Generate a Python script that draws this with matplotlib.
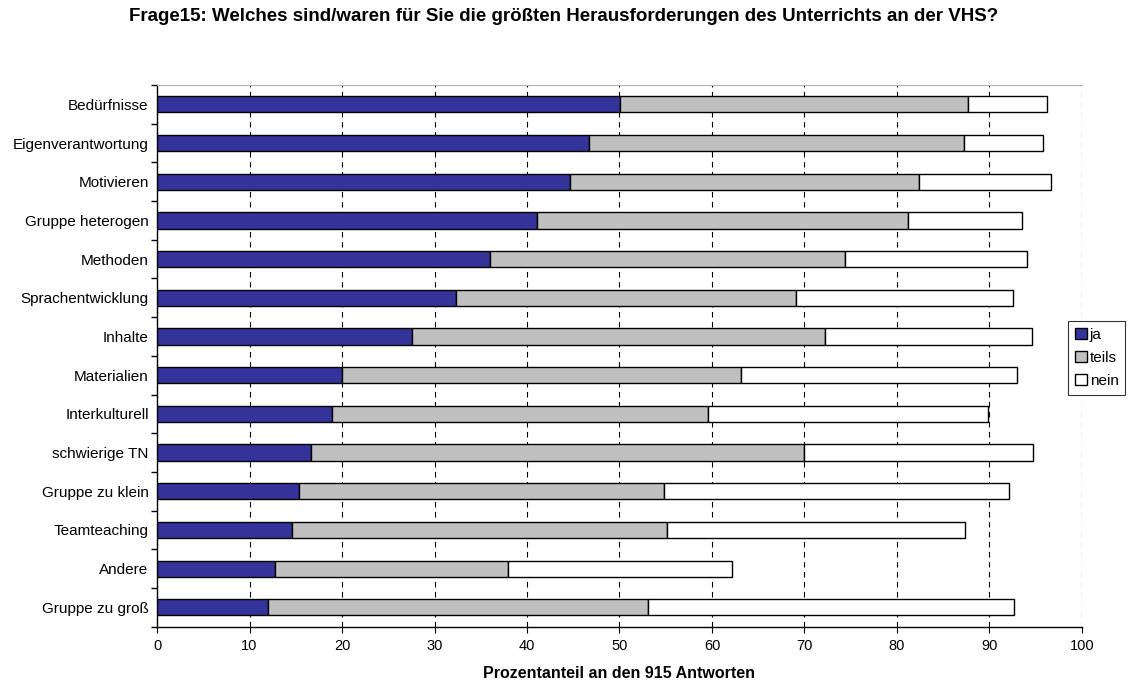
import matplotlib.pyplot as plt
import numpy as np

plt.rcParams['font.family'] = ['Liberation Sans', 'DejaVu Sans']

categories = ['Bedürfnisse', 'Eigenverantwortung', 'Motivieren', 'Gruppe heterogen',
              'Methoden', 'Sprachentwicklung', 'Inhalte', 'Materialien',
              'Interkulturell', 'schwierige TN', 'Gruppe zu klein', 'Teamteaching',
              'Andere', 'Gruppe zu groß']
ja = [50.1, 46.7, 44.7, 41.1, 36.0, 32.3, 27.6, 20.0, 18.9, 16.7, 15.3, 14.6, 12.8, 12.0]
teils = [37.6, 40.5, 37.7, 40.1, 38.4, 36.8, 44.6, 43.1, 40.7, 53.2, 39.5, 40.5, 25.1, 41.1]
nein = [8.5, 8.6, 14.2, 12.3, 19.7, 23.4, 22.4, 29.9, 30.2, 24.8, 37.3, 32.2, 24.3, 39.6]
series_names = ['ja', 'teils', 'nein']
colors = ['#333399', '#C0C0C0', '#FFFFFF']


def main():
    fig = plt.figure(figsize=(11.28, 6.87), dpi=100)
    ax = fig.add_axes([0.1392, 0.0878, 0.8200, 0.7885])
    y = np.arange(len(categories))
    left = np.zeros(len(categories))
    handles = []
    for vals, name, col in zip([ja, teils, nein], series_names, colors):
        b = ax.barh(y, vals, left=left, height=0.42, color=col, edgecolor='black',
                    linewidth=1.0, label=name, zorder=3)
        handles.append(b)
        left = left + np.array(vals)
    ax.set_ylim(len(categories) - 0.5, -0.5)
    ax.set_xlim(0, 100)
    ax.set_xticks(np.arange(0, 101, 10))
    ax.set_yticks(y)
    ax.set_yticklabels(categories, fontsize=11)
    ax.set_yticks(np.arange(-0.5, len(categories), 1), minor=True)
    ax.tick_params(axis='y', which='major', length=0, pad=6)
    ax.tick_params(axis='y', which='minor', length=4, direction='out', width=1)
    ax.tick_params(axis='x', which='major', length=4, direction='out', labelsize=10.5, pad=5)
    for v in range(10, 101, 10):
        ax.axvline(v, color='black', linestyle=(0, (5, 4)), linewidth=0.8, zorder=1)
    ax.spines['right'].set_visible(False)
    ax.spines['top'].set_color('#B0B0B0')
    ax.spines['left'].set_linewidth(1.0)
    ax.spines['bottom'].set_linewidth(1.0)
    ax.set_xlabel('Prozentanteil an den 915 Antworten', fontsize=11.5, fontweight='bold', labelpad=9)
    fig.text(0.5, 0.988, 'Frage15: Welches sind/waren für Sie die größten Herausforderungen des Unterrichts an der VHS?',
             ha='center', va='top', fontsize=13.5, fontweight='bold')
    leg = fig.legend(handles=handles, labels=series_names, loc='center left',
                     bbox_to_anchor=(0.947, 0.479), fontsize=11, frameon=True,
                     fancybox=False, edgecolor='black', handlelength=0.75,
                     handleheight=0.75, handletextpad=0.2, borderpad=0.45,
                     labelspacing=0.6, borderaxespad=0)
    leg.get_frame().set_linewidth(0.8)
    fig.savefig('out.png', dpi=100)


if __name__ == '__main__':
    main()
